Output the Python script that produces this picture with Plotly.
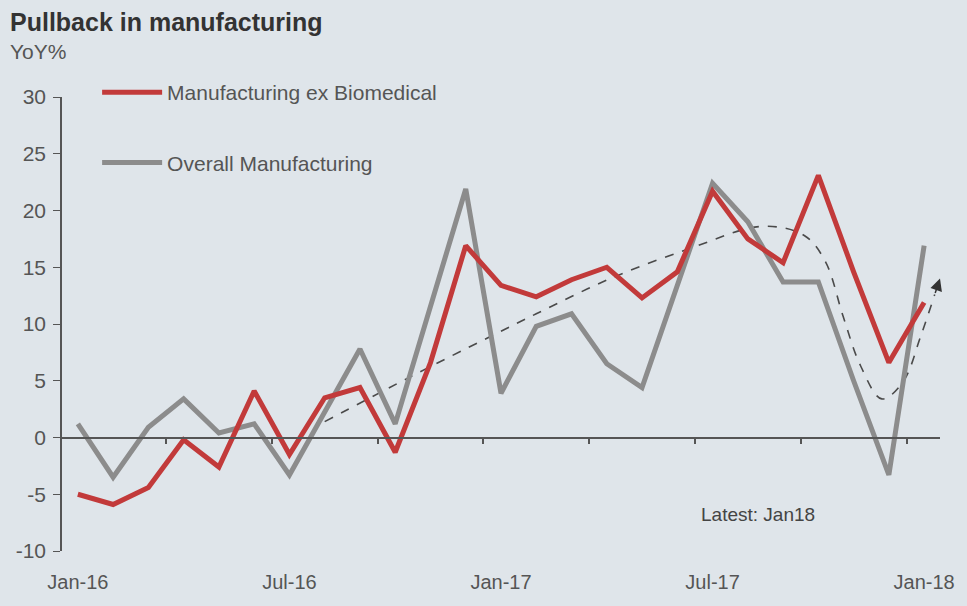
import plotly.graph_objects as go

months = ["Jan-16","Feb-16","Mar-16","Apr-16","May-16","Jun-16","Jul-16","Aug-16","Sep-16","Oct-16","Nov-16","Dec-16",
          "Jan-17","Feb-17","Mar-17","Apr-17","May-17","Jun-17","Jul-17","Aug-17","Sep-17","Oct-17","Nov-17","Dec-17",
          "Jan-18"]
ex_biomedical = [-5.0, -5.9, -4.4, -0.2, -2.6, 4.1, -1.5, 3.5, 4.4, -1.3, 6.6, 16.9,
                 13.4, 12.4, 13.9, 15.0, 12.3, 14.6, 21.7, 17.5, 15.4, 23.1, 14.6, 6.6,
                 11.9]
overall = [1.2, -3.5, 0.9, 3.4, 0.4, 1.2, -3.3, 2.2, 7.8, 1.2, 11.5, 21.9,
           3.9, 9.8, 10.9, 6.5, 4.4, 13.5, 22.4, 19.0, 13.7, 13.7, 5.0, -3.3,
           16.9]

# hand-drawn dashed trend (month index, YoY%)
trend_x = [7.0, 9.4, 11.7, 13.0, 15.1, 17.4, 19.4, 20.6, 21.2, 21.7, 22.2, 22.8, 23.4, 23.9, 24.3]
trend_y = [1.4, 5.3, 8.9, 10.9, 14.0, 16.7, 18.6, 17.8, 15.5, 10.7, 6.3, 3.4, 4.9, 8.9, 12.6]
arrow_tip = (24.45, 14.0)

tick_labels = ["Jan-16", "Jul-16", "Jan-17", "Jul-17", "Jan-18"]
tick_idx = [0, 6, 12, 18, 24]
minor_ticks = [2.5, 5.5, 8.5, 11.5, 14.5, 17.5, 20.5, 23.5]
y_ticks = [-10, -5, 0, 5, 10, 15, 20, 25, 30]
y_tick_text = ["-10", "-5", "0", "5", "10", "15", "20", "25", "30"]

idx = list(range(len(months)))
BG = "#dfe5ea"
RED = "#c23a3a"
GRAY = "#8c8c8c"
AX = "#555555"
FONT = "Liberation Sans, Arial, sans-serif"

fig = go.Figure()
fig.add_trace(go.Scatter(x=trend_x, y=trend_y, mode="lines", line=dict(color="#4a4a4a", width=1.6, dash="dash", shape="spline", smoothing=1.0),
                         showlegend=False, hoverinfo="skip"))
fig.add_trace(go.Scatter(x=idx, y=overall, mode="lines", name="Overall Manufacturing",
                         line=dict(color=GRAY, width=5), legendgroup="b", legendrank=2))
fig.add_trace(go.Scatter(x=idx, y=ex_biomedical, mode="lines", name="Manufacturing ex Biomedical",
                         line=dict(color=RED, width=5), legendgroup="a", legendrank=1))
# overlay axis providing the y=0 axis line with tick marks
fig.add_trace(go.Scatter(x=[0], y=[0], xaxis="x2", yaxis="y", mode="markers", marker=dict(opacity=0),
                         showlegend=False, hoverinfo="skip"))

xr = [-0.45, 24.45]
fig.update_layout(
    width=967, height=606,
    margin=dict(l=62, r=24, t=97, b=55),
    paper_bgcolor=BG, plot_bgcolor=BG,
    font=dict(family=FONT, color=AX, size=17),
    showlegend=True,
    legend=dict(x=0.04, y=1.055, xanchor="left", yanchor="top", bgcolor="rgba(0,0,0,0)",
                traceorder="grouped", tracegroupgap=40, font=dict(size=21, color="#555555"),
                itemwidth=60),
    xaxis=dict(range=xr, tickvals=tick_idx, ticktext=tick_labels, showgrid=False, zeroline=False,
               showline=False, ticks="", tickfont=dict(size=20, color="#555555"), ticklabelstandoff=17),
    xaxis2=dict(range=xr, overlaying="x", anchor="free", position=0.25, showline=True, linecolor=AX, linewidth=2,
                ticks="outside", ticklen=5, tickwidth=1.5, tickcolor=AX, tickvals=minor_ticks,
                showticklabels=False, showgrid=False, zeroline=False),
    yaxis=dict(range=[-10, 30], tickvals=y_ticks, ticktext=y_tick_text, showgrid=False, zeroline=False, showline=True,
               linecolor=AX, linewidth=1.5, ticks="outside", ticklen=7, tickcolor=AX,
               tickfont=dict(size=21, color="#555555"), ticklabelstandoff=3),
    annotations=[
        dict(text="<b>Pullback in manufacturing</b>", xref="paper", yref="paper", x=-0.062, y=1.165,
             xanchor="left", yanchor="middle", showarrow=False, font=dict(size=25, color="#333333")),
        dict(text="YoY%", xref="paper", yref="paper", x=-0.062, y=1.1, xanchor="left", yanchor="middle",
             showarrow=False, font=dict(size=21, color="#555555")),
        dict(text="Latest: Jan18", x=19.3, y=-6.8, xref="x", yref="y", showarrow=False,
             font=dict(size=19, color="#444444")),
        dict(x=arrow_tip[0], y=arrow_tip[1], ax=trend_x[-1], ay=trend_y[-1], xref="x", yref="y",
             axref="x", ayref="y", showarrow=True, arrowhead=2, arrowsize=1.6, arrowwidth=1.5,
             arrowcolor="#333333", text=""),
    ],
)
fig.write_html("out.html")
